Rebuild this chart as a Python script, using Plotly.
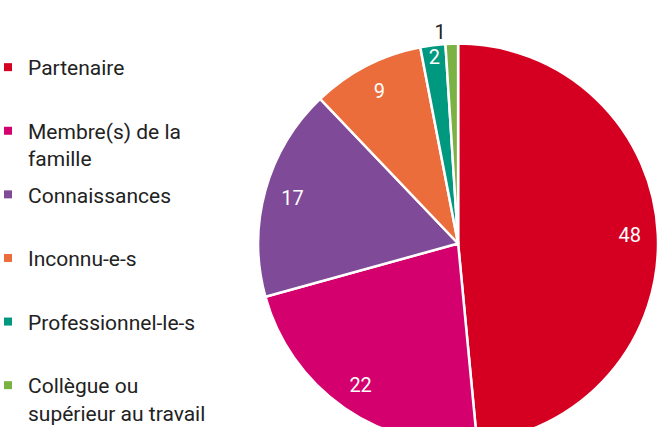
import plotly.graph_objects as go

labels = ["Partenaire", "Membre(s) de la<br>famille", "Connaissances",
          "Inconnu-e-s", "Professionnel-le-s", "Collègue ou<br>supérieur au travail"]
values = [48, 22, 17, 9, 2, 1]
colors = ["#D50021", "#D4006E", "#7F4A97", "#EB6D3C", "#00987F", "#7BB244"]
text_pos = ["inside", "inside", "inside", "inside", "inside", "outside"]

FONT = "Roboto, 'Noto Sans', sans-serif"
DOMAIN = dict(x=[0.3906, 0.9955], y=[0.0, 1.0])

fig = go.Figure()
# coloured slices
fig.add_trace(go.Pie(
    labels=labels, values=values, sort=False, direction="clockwise", rotation=0,
    marker=dict(colors=colors, line=dict(color="white", width=2.5)),
    textinfo="none", domain=DOMAIN, showlegend=False,
    hovertemplate="%{label}: %{value}<extra></extra>",
))
# transparent ring carrying the value labels near the rim
fig.add_trace(go.Pie(
    labels=labels, values=values, sort=False, direction="clockwise", rotation=0,
    hole=0.72,
    marker=dict(colors=["rgba(0,0,0,0)"] * len(values), line=dict(width=0)),
    textinfo="value", textposition=text_pos,
    insidetextorientation="horizontal",
    insidetextfont=dict(color="white", size=20, family=FONT),
    outsidetextfont=dict(color="#222222", size=20, family=FONT),
    domain=DOMAIN, showlegend=False, hoverinfo="skip",
))

# legend entries (one group each so the gap can be set)
for i, (lab, col) in enumerate(zip(labels, colors)):
    name = lab if "<br>" in lab else lab + "<br> "
    fig.add_trace(go.Scatter(
        x=[None], y=[None], mode="markers", name=name,
        marker=dict(symbol="square", size=8, color=col),
        legendgroup=str(i), showlegend=True, hoverinfo="skip",
    ))

fig.update_layout(
    width=663, height=450,
    margin=dict(l=0, r=0, t=43, b=6),
    paper_bgcolor="white", plot_bgcolor="white",
    font=dict(family=FONT, size=21, color="#222222"),
    xaxis=dict(visible=False), yaxis=dict(visible=False),
    uniformtext=dict(minsize=20, mode="show"),
    legend=dict(x=0, y=0.990, xanchor="left", yanchor="top",
                valign="top", tracegroupgap=6, indentation=-12,
                font=dict(size=21)),
)

fig.write_html(
    "out.html",
    config={"displayModeBar": False},
    post_script="document.body.style.margin='0';document.body.style.overflow='hidden';",
)
